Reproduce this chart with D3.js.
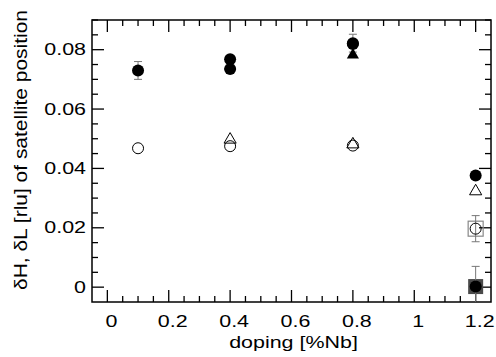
<!DOCTYPE html>
<html>
<head>
<meta charset="utf-8">
<script src="https://cdn.jsdelivr.net/npm/d3@7"></script>
<style>
  body { margin: 0; background: #fff; }
  text { font-family: "Liberation Sans", Arial, sans-serif; }
</style>
</head>
<body>
<div id="chart"></div>
<script>
// doping positions and values
var filledCircleX = [0.1, 0.4, 0.4, 0.8, 0.8, 1.2, 1.2];
var filledCircleY = [0.0730, 0.0768, 0.0735, 0.0819, 0.0822, 0.0376, 0.0002];

var filledTriangleX = [0.4, 0.8];
var filledTriangleY = [0.0745, 0.0782];

var openCircleX = [0.1, 0.4, 0.8, 1.2];
var openCircleY = [0.0468, 0.0475, 0.0477, 0.0197];

var openTriangleX = [0.4, 0.8, 1.2];
var openTriangleY = [0.0497, 0.0481, 0.0323];

var openSquareX = [1.2];
var openSquareY = [0.0197];

var filledSquareX = [1.2];
var filledSquareY = [0.0002];

// error bars: x, y, half-width
var errX = [0.1, 0.8, 1.2, 1.2];
var errY = [0.0730, 0.0822, 0.0197, 0.0002];
var errD = [0.0030, 0.0030, 0.0044, 0.0068];

var xTicks = [0, 0.2, 0.4, 0.6, 0.8, 1, 1.2];
var yTicks = [0, 0.02, 0.04, 0.06, 0.08];

var width = 496,
    height = 357;
var margin = { left: 92, right: 5, top: 20, bottom: 55 };
var plotW = width - margin.left - margin.right,
    plotH = height - margin.top - margin.bottom;

// the text in the original is stretched sideways
var stretch = 1.3,
    fontSize = 16.5;

var svg = d3.select("#chart")
  .append("svg")
    .attr("width", width)
    .attr("height", height);

var x = d3.scaleLinear().domain([-0.05, 1.25]).range([margin.left, margin.left + plotW]);
var y = d3.scaleLinear().domain([-0.005, 0.09]).range([margin.top + plotH, margin.top]);

var majorLen = 12,
    minorLen = 6;

function zip(xs, ys) {
  return xs.map(function(v, i) { return { x: v, y: ys[i] }; });
}

svg.append("clipPath")
  .attr("id", "plot-clip")
  .append("rect")
    .attr("x", x.range()[0])
    .attr("y", y.range()[1])
    .attr("width", plotW)
    .attr("height", plotH);

// frame
svg.append("rect")
  .attr("x", x.range()[0])
  .attr("y", y.range()[1])
  .attr("width", plotW)
  .attr("height", plotH)
  .attr("fill", "none")
  .attr("stroke", "#000")
  .attr("stroke-width", 1.5);

// ticks, all pointing inward on the four sides
var xMinor = d3.range(0, 1.25, 0.05).filter(function(v) {
  return Math.abs(v * 5 - Math.round(v * 5)) > 1e-6;
});
var yMinor = d3.range(0, 0.0901, 0.005).filter(function(v) {
  return Math.abs(v * 50 - Math.round(v * 50)) > 1e-6;
});

function drawXTicks(values, len) {
  var g = svg.append("g").attr("stroke", "#000").attr("stroke-width", 1.3);
  values.forEach(function(v) {
    g.append("line").attr("x1", x(v)).attr("x2", x(v))
      .attr("y1", y.range()[0]).attr("y2", y.range()[0] - len);
    g.append("line").attr("x1", x(v)).attr("x2", x(v))
      .attr("y1", y.range()[1]).attr("y2", y.range()[1] + len);
  });
}
function drawYTicks(values, len) {
  var g = svg.append("g").attr("stroke", "#000").attr("stroke-width", 1.3);
  values.forEach(function(v) {
    g.append("line").attr("y1", y(v)).attr("y2", y(v))
      .attr("x1", x.range()[0]).attr("x2", x.range()[0] + len);
    g.append("line").attr("y1", y(v)).attr("y2", y(v))
      .attr("x1", x.range()[1]).attr("x2", x.range()[1] - len);
  });
}
drawXTicks(xTicks, majorLen);
drawXTicks(xMinor, minorLen);
drawYTicks(yTicks, majorLen);
drawYTicks(yMinor, minorLen);

// tick labels
svg.append("g").selectAll("text")
  .data(xTicks)
  .enter().append("text")
    .attr("transform", function(d) {
      return "translate(" + (x(d) + 4) + "," + (y.range()[0] + 24.5) + ") scale(" + stretch + ",1)";
    })
    .attr("text-anchor", "middle")
    .attr("font-size", fontSize + "px")
    .text(function(d) { return d3.format("")(d); });

svg.append("g").selectAll("text")
  .data(yTicks)
  .enter().append("text")
    .attr("transform", function(d) {
      return "translate(" + (x.range()[0] - 6) + "," + (y(d) + 5.5) + ") scale(" + stretch + ",1)";
    })
    .attr("text-anchor", "end")
    .attr("font-size", fontSize + "px")
    .text(function(d) { return d === 0 ? "0" : d3.format(".2f")(d); });

// axis titles
svg.append("text")
  .attr("transform", "translate(" + ((x.range()[0] + x.range()[1]) / 2 + 2) + ",348) scale(" + stretch + ",1)")
  .attr("text-anchor", "middle")
  .attr("font-size", fontSize + "px")
  .text("doping [%Nb]");

svg.append("text")
  .attr("transform", "translate(27,150) rotate(-90) scale(1,1.1)")
  .attr("text-anchor", "middle")
  .attr("font-size", "17px")
  .attr("textLength", 280)
  .attr("lengthAdjust", "spacingAndGlyphs")
  .text("δH, δL [rlu] of satellite position");

var marks = svg.append("g").attr("clip-path", "url(#plot-clip)");

// squares behind the points
var sq = 15;
marks.append("g").selectAll("rect")
  .data(zip(filledSquareX, filledSquareY))
  .enter().append("rect")
    .attr("x", function(d) { return x(d.x) - sq / 2; })
    .attr("y", function(d) { return y(d.y) - sq / 2; })
    .attr("width", sq).attr("height", sq)
    .attr("fill", "#4a4a4a");

marks.append("g").selectAll("rect")
  .data(zip(openSquareX, openSquareY))
  .enter().append("rect")
    .attr("x", function(d) { return x(d.x) - sq / 2; })
    .attr("y", function(d) { return y(d.y) - sq / 2; })
    .attr("width", sq).attr("height", sq)
    .attr("fill", "none")
    .attr("stroke", "#888")
    .attr("stroke-width", 1.2);

// error bars
var errG = marks.append("g").attr("stroke", "#777").attr("stroke-width", 1);
errX.forEach(function(v, i) {
  var cx = x(v), top = y(errY[i] + errD[i]), bot = y(errY[i] - errD[i]);
  errG.append("line").attr("x1", cx).attr("x2", cx).attr("y1", top).attr("y2", bot);
  errG.append("line").attr("x1", cx - 4).attr("x2", cx + 4).attr("y1", top).attr("y2", top);
  errG.append("line").attr("x1", cx - 4).attr("x2", cx + 4).attr("y1", bot).attr("y2", bot);
});

var triangle = d3.symbol().type(d3.symbolTriangle).size(64);

marks.append("g").selectAll("path")
  .data(zip(openTriangleX, openTriangleY))
  .enter().append("path")
    .attr("d", triangle)
    .attr("transform", function(d) { return "translate(" + x(d.x) + "," + y(d.y) + ")"; })
    .attr("fill", "#fff")
    .attr("stroke", "#000")
    .attr("stroke-width", 1);

marks.append("g").selectAll("circle")
  .data(zip(openCircleX, openCircleY))
  .enter().append("circle")
    .attr("cx", function(d) { return x(d.x); })
    .attr("cy", function(d) { return y(d.y); })
    .attr("r", 5.5)
    .attr("fill", "none")
    .attr("stroke", "#000")
    .attr("stroke-width", 1);

marks.append("g").selectAll("path")
  .data(zip(filledTriangleX, filledTriangleY))
  .enter().append("path")
    .attr("d", triangle)
    .attr("transform", function(d) { return "translate(" + x(d.x) + "," + y(d.y) + ")"; })
    .attr("fill", "#000");

marks.append("g").selectAll("circle")
  .data(zip(filledCircleX, filledCircleY))
  .enter().append("circle")
    .attr("cx", function(d) { return x(d.x); })
    .attr("cy", function(d) { return y(d.y); })
    .attr("r", 6)
    .attr("fill", "#000");
</script>
</body>
</html>
